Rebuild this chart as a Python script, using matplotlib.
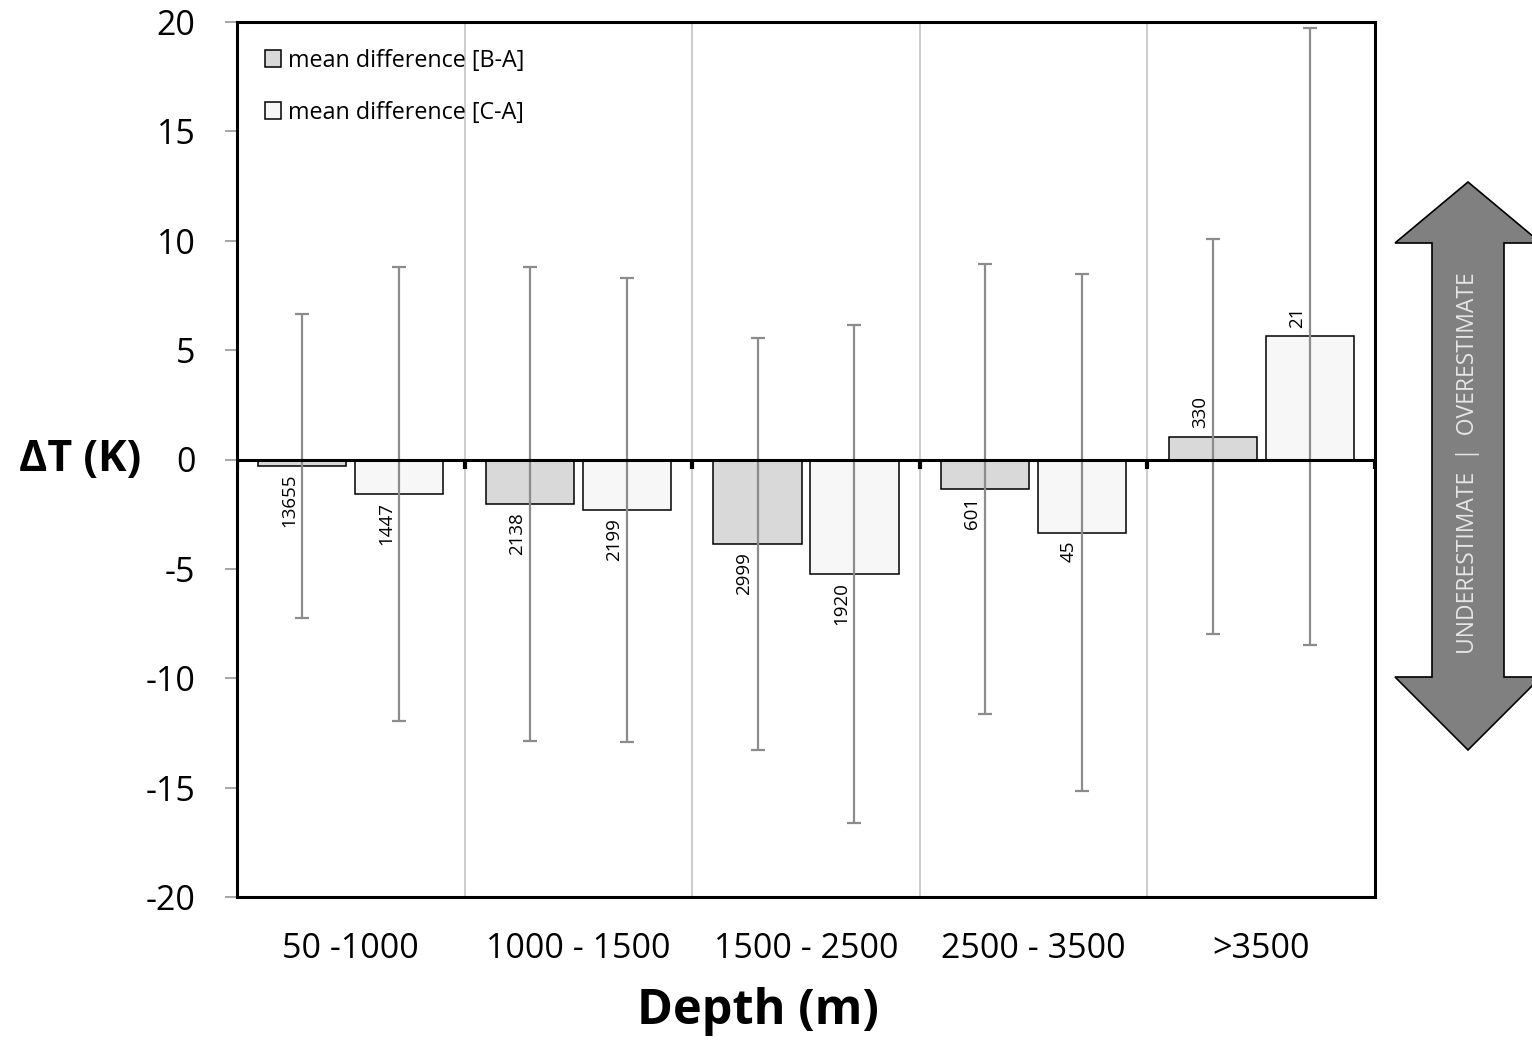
import numpy as np
import matplotlib
matplotlib.use("Agg")
import matplotlib.pyplot as plt
from matplotlib.patches import Polygon

plt.rcParams['font.family'] = ['Open Sans', 'DejaVu Sans']

categories = ["50 -1000", "1000 - 1500", "1500 - 2500", "2500 - 3500", ">3500"]
mean_ba = [-0.28, -2.04, -3.87, -1.34, 1.05]
mean_ca = [-1.57, -2.32, -5.24, -3.34, 5.64]
err_ba = [6.95, 10.83, 9.41, 10.30, 9.03]
err_ca = [10.38, 10.60, 11.39, 11.82, 14.10]
count_ba = ["13655", "2138", "2999", "601", "330"]
count_ca = ["1447", "2199", "1920", "45", "21"]
yticks = [-20, -15, -10, -5, 0, 5, 10, 15, 20]

W, H = 1532, 1040
fig = plt.figure(figsize=(W / 100, H / 100), dpi=100)
ax = fig.add_axes([237 / W, 1 - 897 / H, (1375 - 237) / W, (897 - 22) / H])

x = np.arange(len(categories))
bw = 0.387
off = 0.213

bars_ba = ax.bar(x - off, mean_ba, bw, color="#d9d9d9", edgecolor="black", linewidth=1.1, zorder=3,
                 label="mean difference [B-A]")
bars_ca = ax.bar(x + off, mean_ca, bw, color="#f7f7f7", edgecolor="black", linewidth=1.1, zorder=3,
                 label="mean difference [C-A]")
ax.errorbar(x - off, mean_ba, yerr=err_ba, fmt="none", ecolor="#8c8c8c", elinewidth=1.6,
            capsize=5, capthick=1.6, zorder=4)
ax.errorbar(x + off, mean_ca, yerr=err_ca, fmt="none", ecolor="#8c8c8c", elinewidth=1.6,
            capsize=5, capthick=1.6, zorder=4)

for bars, labels in ((bars_ba, count_ba), (bars_ca, count_ca)):
    for b, lab in zip(bars, labels):
        h = b.get_height()
        cx = b.get_x() + b.get_width() / 2
        if h < 0:
            ax.annotate(lab, (cx, h), xytext=(-9.5, -6), textcoords="offset points",
                        rotation=90, ha="center", va="top", fontsize=13.5, zorder=5)
        else:
            ax.annotate(lab, (cx, h), xytext=(-9, 6), textcoords="offset points",
                        rotation=90, ha="center", va="bottom", fontsize=13.5, zorder=5)

ax.set_xlim(-0.5, len(categories) - 0.5)
ax.set_ylim(-20, 20)
bounds = np.arange(len(categories) + 1) - 0.5
for bx in bounds[1:-1]:
    ax.axvline(bx, color="#c8c8c8", linewidth=1.3, zorder=1)
ax.axhline(0, color="black", linewidth=2.2, zorder=4)
ax.vlines(bounds, -0.45, 0, color="black", linewidth=3, zorder=4)

ax.set_yticks(yticks)
ax.set_yticklabels([str(v) for v in yticks])
ax.tick_params(axis="y", direction="out", length=9, width=1.3, color="#a0a0a0",
               labelsize=24.5, pad=21)
ax.set_xticks(x)
ax.set_xticklabels(categories)
ax.tick_params(axis="x", length=0, labelsize=24.5, pad=25.5)
for s in ax.spines.values():
    s.set_linewidth(2.2)
    s.set_color("black")

fig.text(758 / W, 1 - 1012 / H, "Depth (m)", fontsize=35, fontweight="bold", ha="center", va="center")
fig.text(80 / W, 1 - 460 / H, "ΔT (K)", fontsize=31, fontweight="bold", ha="center", va="center")

leg = ax.legend(loc="upper left", bbox_to_anchor=(0.01, 0.988), frameon=False, fontsize=16.8,
                handlelength=0.7, handleheight=0.7, handletextpad=0.3, labelspacing=1.2,
                borderaxespad=0.3)

# double-headed arrow on the right (figure pixel coordinates)
cxp = 1468
pts = [(cxp, 182), (1395, 243), (1432, 243), (1432, 677), (1395, 677), (cxp, 750),
       (1541, 677), (1504, 677), (1504, 243), (1541, 243)]
poly = Polygon([(px / W, 1 - py / H) for px, py in pts], closed=True, transform=fig.transFigure,
               facecolor="#808080", edgecolor="black", linewidth=1.2)
fig.patches.append(poly)
fig.text(cxp / W, 1 - 463 / H, "UNDERESTIMATE  |  OVERESTIMATE", rotation=90, ha="center",
         va="center", color="#e6e6e6", fontsize=16.5)

fig.savefig("out.png", dpi=100)
